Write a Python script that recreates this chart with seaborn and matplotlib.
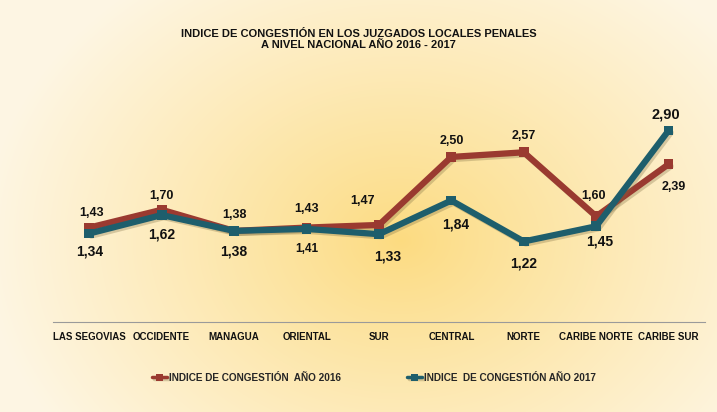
import numpy as np
import pandas as pd
import matplotlib
matplotlib.use("Agg")
import matplotlib.pyplot as plt
import matplotlib.patheffects as pe
import seaborn as sns

regiones = ["LAS SEGOVIAS", "OCCIDENTE", "MANAGUA", "ORIENTAL", "SUR",
            "CENTRAL", "NORTE", "CARIBE NORTE", "CARIBE SUR"]
indice_2016 = [1.43, 1.70, 1.38, 1.43, 1.47, 2.50, 2.57, 1.60, 2.39]
indice_2017 = [1.34, 1.62, 1.38, 1.41, 1.33, 1.84, 1.22, 1.45, 2.90]
serie_2016 = "INDICE DE CONGESTIÓN  AÑO 2016"
serie_2017 = "INDICE  DE CONGESTIÓN AÑO 2017"

df = pd.DataFrame({
    "region": regiones * 2,
    "x": list(range(len(regiones))) * 2,
    "valor": indice_2016 + indice_2017,
    "serie": [serie_2016] * len(regiones) + [serie_2017] * len(regiones),
})

sns.set_theme(style="white")
plt.rcParams["font.family"] = ["Liberation Sans", "DejaVu Sans"]
plt.rcParams["font.weight"] = "bold"

fig = plt.figure(figsize=(7.17, 4.12), dpi=100)

# warm radial background
bg = fig.add_axes([0, 0, 1, 1], zorder=-10)
yy, xx = np.mgrid[0:412, 0:717]
r = np.sqrt(((xx - 400) / 420.0) ** 2 + ((yy - 240) / 330.0) ** 2)
r = np.clip(r, 0, 1) ** 0.9
c0 = np.array([252, 219, 128]) / 255.0
c1 = np.array([254, 246, 228]) / 255.0
img = c0[None, None, :] * (1 - r[..., None]) + c1[None, None, :] * r[..., None]
bg.imshow(img, aspect="auto", extent=[0, 1, 0, 1])
bg.axis("off")

ax = fig.add_axes([0.074, 0.2184, 0.909, 0.561])
ax.patch.set_alpha(0)

colores = {serie_2016: "#9A3A30", serie_2017: "#1E5E6C"}
sombra = [pe.SimpleLineShadow(offset=(1.5, -1.5), alpha=0.3, shadow_color="#7a6a40"), pe.Normal()]
sns.lineplot(data=df, x="x", y="valor", hue="serie", palette=colores,
             marker="s", markersize=7, linewidth=4.5, ax=ax, legend=True,
             markeredgewidth=0, path_effects=sombra)

ax.set_xlim(-0.5, len(regiones) - 0.5)
ax.set_ylim(0, 3.5)
ax.set_xlabel("")
ax.set_ylabel("")
ax.set_yticks([])
ax.set_xticks(range(len(regiones)))
ax.set_xticklabels(regiones, fontsize=7, fontweight="bold", color="#111111")
ax.set_xticks(np.arange(-0.5, len(regiones)), minor=True)
ax.tick_params(axis="x", which="major", length=0, pad=7)
ax.tick_params(axis="x", which="minor", length=4, color="#9a9a9a", width=0.8, direction="out")
for s in ["top", "right", "left"]:
    ax.spines[s].set_visible(False)
ax.spines["bottom"].set_color("#9a9a9a")
ax.spines["bottom"].set_linewidth(0.8)

def fmt(v):
    return f"{v:.2f}".replace(".", ",")

# value labels (offsets in pixels: dx, dy)
off_2016 = [(2, 15), (0, 14), (0, 16), (0, 19), (-16, 24), (0, 16), (0, 16), (-3, 20), (5, -23)]
off_2017 = [(0, -18), (0, -19), (0, -21), (0, -20), (9, -22), (4, -24), (0, -22), (4, -15), (-3, 16)]
fs_2016 = [9, 9, 9, 9, 9, 9, 9, 9, 9]
fs_2017 = [10, 10, 10, 8.5, 10, 10, 10, 10, 10.5]
for i, v in enumerate(indice_2016):
    ax.annotate(fmt(v), (i, v), xytext=off_2016[i], textcoords="offset pixels",
                ha="center", va="center", fontsize=fs_2016[i], fontweight="bold", color="#111111")
for i, v in enumerate(indice_2017):
    ax.annotate(fmt(v), (i, v), xytext=off_2017[i], textcoords="offset pixels",
                ha="center", va="center", fontsize=fs_2017[i], fontweight="bold", color="#111111")

fig.text(0.5, 0.904, "INDICE DE CONGESTIÓN EN LOS JUZGADOS LOCALES PENALES\nA NIVEL NACIONAL AÑO 2016 - 2017",
         ha="center", va="center", fontsize=8, fontweight="bold", color="#111111", linespacing=1.2)

handles, labels = ax.get_legend_handles_labels()
ax.get_legend().remove()
for h in handles:
    h.set_linewidth(2.5)
    h.set_markersize(5)
fig.legend(handles, labels, loc="center", bbox_to_anchor=(0.522, 0.083), ncol=2, frameon=False,
           handlelength=1.5, handletextpad=0.2, columnspacing=6.6,
           prop={"weight": "bold", "size": 7.2})

fig.savefig("out.png", dpi=100)
